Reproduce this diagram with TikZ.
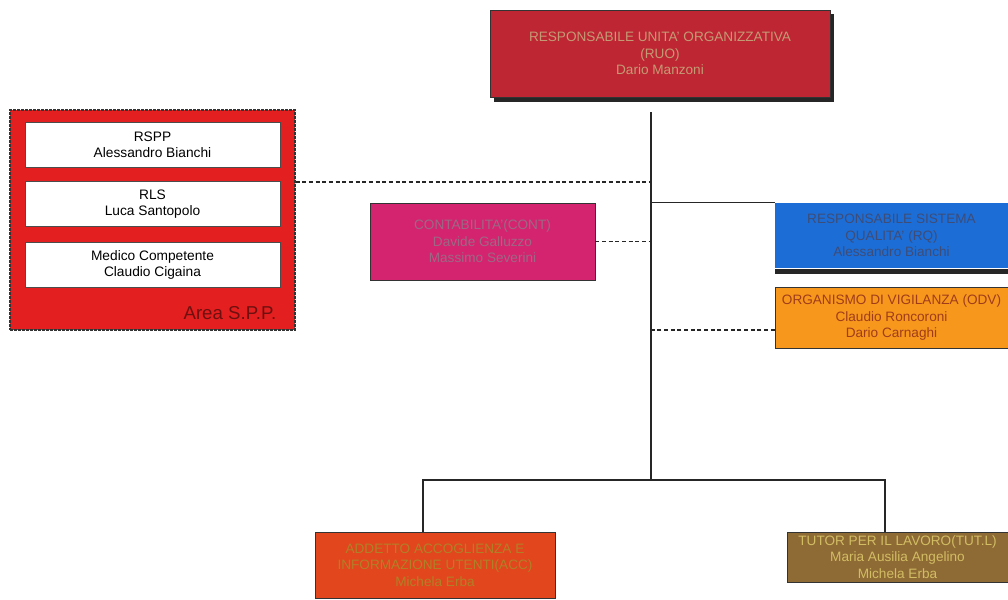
\documentclass[tikz,border=0pt]{standalone}
\usepackage{fontspec}
\setmainfont{Liberation Sans}
\definecolor{cRUO}{HTML}{BE2633}
\definecolor{cCONT}{HTML}{D42470}
\definecolor{cRQ}{HTML}{1C6ED6}
\definecolor{cODV}{HTML}{F7981D}
\definecolor{cACC}{HTML}{E2461C}
\definecolor{cTUT}{HTML}{8E6B34}
\definecolor{cSPP}{HTML}{E41F1F}
\definecolor{tRUO}{HTML}{C49A74}
\definecolor{tCONT}{HTML}{9C6884}
\definecolor{tRQ}{HTML}{3E4C78}
\definecolor{tODV}{HTML}{A03C1A}
\definecolor{tACC}{HTML}{B08028}
\definecolor{tTUT}{HTML}{D2BC64}
\definecolor{tSPP}{HTML}{6E1010}
\tikzset{
  orgbox/.style={draw=black!80, line width=0.6pt, rectangle, align=center,
    font=\fontsize{10.2}{12.4}\selectfont, inner sep=1pt},
  whitebox/.style={draw=black!70, fill=white, line width=0.5pt, rectangle, align=center,
    font=\fontsize{10.3}{12}\selectfont, minimum width=191.25pt, minimum height=33.75pt},
  link/.style={line width=0.8pt, draw=black!85},
  dlink/.style={line width=1.1pt, draw=black!85, dash pattern=on 3pt off 2pt},
}
\begin{document}
\begin{tikzpicture}[x=0.75pt,y=-0.75pt]
\useasboundingbox (0,0) rectangle (1008,600);
\fill[white] (0,0) rectangle (1008,600);

% shadows
\fill[black!85] (494,14) rectangle (834,102);
\fill[black!85] (775,269) rectangle (1008,274);

% top box
\node[orgbox, fill=cRUO, text=tRUO, minimum width=255pt, minimum height=65.25pt] (RUO) at (660,53.5)
  {RESPONSABILE UNITA' ORGANIZZATIVA\\(RUO)\\Dario Manzoni};

% SPP area
\node[draw=black!80, dash pattern=on 2pt off 1pt, line width=0.8pt, fill=cSPP, rectangle,
  minimum width=213.75pt, minimum height=165pt] (SPP) at (152.5,220) {};
\node[whitebox] (RSPP) at (152.5,144.5) {RSPP\\Alessandro Bianchi};
\node[whitebox] (RLS) at (152.5,204) {RLS\\Luca Santopolo};
\node[whitebox] (MED) at (152.5,265) {Medico Competente\\Claudio Cigaina};
\node[font=\fontsize{14}{16}\selectfont, text=tSPP, anchor=east] (SPPlab) at (281,313) {Area S.P.P.};

% other boxes
\node[orgbox, fill=cCONT, text=tCONT, minimum width=168.75pt, minimum height=57.75pt] (CONT) at (482.5,241.5)
  {CONTABILITA'(CONT)\\Davide Galluzzo\\Massimo Severini};
\node[orgbox, fill=cRQ, text=tRQ, draw=none, minimum width=174.75pt, minimum height=48.75pt] (RQ) at (891.5,235.5)
  {RESPONSABILE SISTEMA\\QUALITA' (RQ)\\Alessandro Bianchi};
\node[orgbox, fill=cODV, text=tODV, minimum width=174.75pt, minimum height=45.75pt] (ODV) at (891.5,317.5)
  {ORGANISMO DI VIGILANZA (ODV)\\Claudio Roncoroni\\Dario Carnaghi};
\node[orgbox, fill=cACC, text=tACC, minimum width=180pt, minimum height=49.5pt] (ACC) at (435,565)
  {ADDETTO ACCOGLIENZA E\\INFORMAZIONE UTENTI(ACC)\\Michela Erba};
\node[orgbox, fill=cTUT, text=tTUT, minimum width=165.75pt, minimum height=37.5pt] (TUT) at (897.5,557)
  {TUTOR PER IL LAVORO(TUT.L)\\Maria Ausilia Angelino\\Michela Erba};

% trunk
\coordinate (top) at (651,112);
\coordinate (hub) at (651,480);
\draw[link] (top) -- (hub);
\draw[link] ([xshift=-9pt]ACC.north) |- (hub);
\draw[link] ([xshift=-9.4pt]TUT.north) |- (hub);
\draw[link] (RQ.north west) -- (RQ.north west -| top);
\draw[dlink] (CONT.east) -- (CONT.east -| top);
\draw[dlink] ([yshift=-9.4pt]ODV.west) -- ([yshift=-9.4pt]ODV.west -| top);
\draw[dlink] ([yshift=28.5pt]SPP.east) -- ([yshift=28.5pt]SPP.east -| top);
\end{tikzpicture}
\end{document}
